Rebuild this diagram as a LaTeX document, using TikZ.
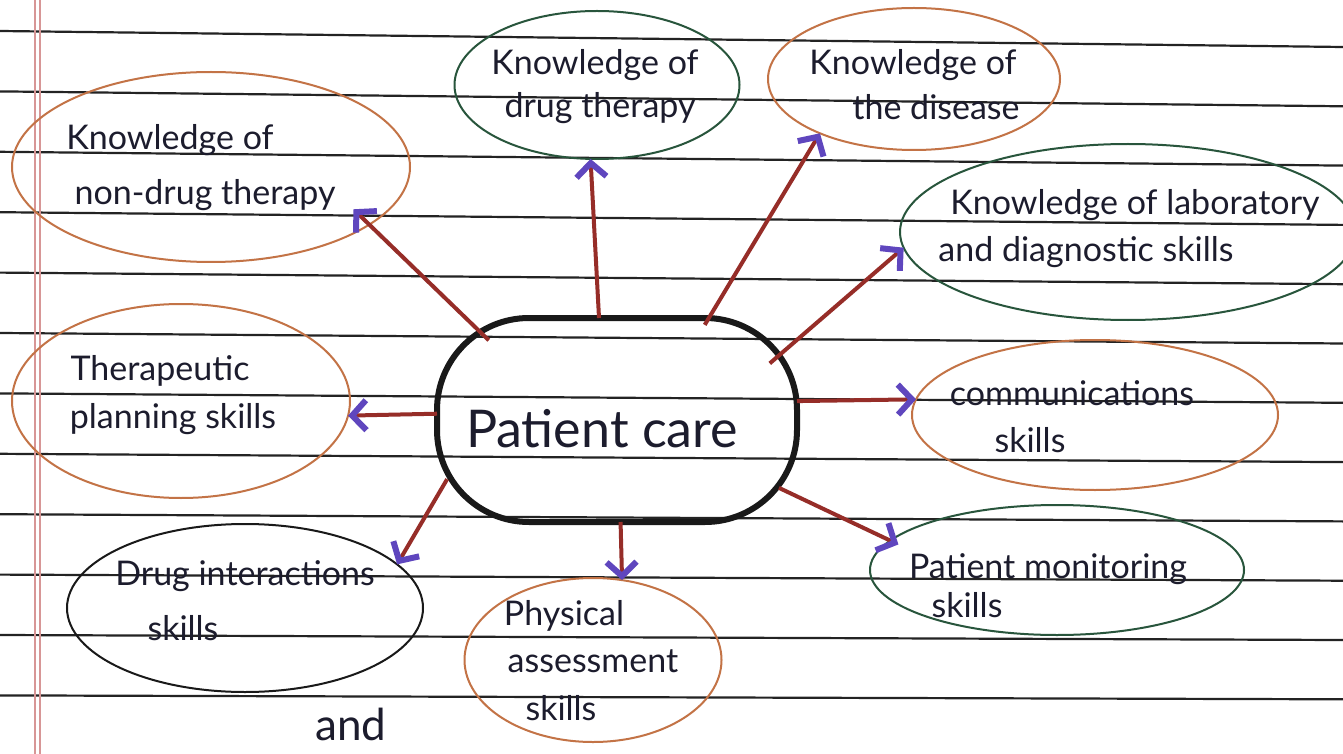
\documentclass[tikz,border=0pt]{standalone}
\usepackage{fontspec}
\setmainfont{Lato}
\usetikzlibrary{arrows.meta,shapes.geometric}
\definecolor{ink}{RGB}{28,28,45}
\definecolor{bgreen}{RGB}{40,85,60}
\definecolor{borange}{RGB}{195,115,70}
\definecolor{bblack}{RGB}{25,25,25}
\definecolor{shaftc}{RGB}{150,45,40}
\definecolor{tipc}{RGB}{95,70,190}
\definecolor{rulec}{RGB}{35,35,35}
\definecolor{marginc}{RGB}{215,150,150}
\begin{document}
\begin{tikzpicture}[x=0.5pt,y=-0.5pt,
  bubble/.style={ellipse, draw, line width=1pt, inner sep=0pt, outer sep=0pt},
  hub/.style={draw=bblack, line width=3pt, rounded corners=46pt, inner sep=0pt, outer sep=0pt},
  txt/.style={text=ink, font=\fontsize{17}{20}\selectfont, anchor=base, inner sep=0pt},
  bigtxt/.style={text=ink, font=\fontsize{26}{30}\selectfont, anchor=base, inner sep=0pt},
  conn/.style={draw=shaftc, line width=2pt, -{Straight Barb[length=7pt,width=15pt,line width=3pt,color=tipc]}},
  ruleline/.style={draw=rulec, line width=1.1pt},
  marginline/.style={draw=marginc, line width=0.6pt}]
\fill[white] (0,0) rectangle (1343,754);
\useasboundingbox (0,0) rectangle (1343,754);
% ruled paper
\foreach \k in {0,...,11}{
  \pgfmathsetmacro{\yl}{31+60.4*\k}
  \pgfmathsetmacro{\yr}{31+60.4*\k+16-1.1*\k}
  \draw[ruleline] (0,\yl) -- (1343,\yr);
}
\draw[marginline] (35,0) -- (35,754);
\draw[marginline] (40,0) -- (40,754);
% bubbles
\node[bubble, draw=borange, minimum width=199pt, minimum height=95pt] (nondrug) at (211,167) {};
\node[bubble, draw=bgreen, minimum width=142.5pt, minimum height=74pt] (drugther) at (597,85) {};
\node[bubble, draw=borange, minimum width=146pt, minimum height=71pt] (disease) at (914,79) {};
\node[bubble, draw=bgreen, minimum width=228pt, minimum height=88pt] (lab) at (1128,232) {};
\node[bubble, draw=borange, minimum width=183pt, minimum height=75pt] (comm) at (1095,415) {};
\node[bubble, draw=bgreen, minimum width=187pt, minimum height=65pt] (monit) at (1057,570) {};
\node[bubble, draw=borange, minimum width=128.5pt, minimum height=82pt] (phys) at (593,660) {};
\node[bubble, draw=bblack, minimum width=178pt, minimum height=84pt] (drugint) at (245,608) {};
\node[bubble, draw=borange, minimum width=169pt, minimum height=97pt] (thera) at (181,401) {};
\node[hub, minimum width=180pt, minimum height=102pt] (center) at (617,420) {};
% connectors
\draw[conn, shorten <=-16pt, shorten >=-11pt] (center.146.5) -- (nondrug.340);
\draw[conn] (center.100) -- (drugther.265);
\draw[conn, shorten <=-4pt] (center.48) -- (disease.210);
\draw[conn, shorten <=-18pt] (center.24) -- (lab.184);
\draw[conn] (center.6) -- (comm.175);
\draw[conn, shorten <=-10pt, shorten >=-4.5pt] (center.337) -- (monit.170);
\draw[conn] (center.-88) -- (phys.70);
\draw[conn, shorten <=-10pt] (center.203) -- (drugint.16);
\draw[conn] (center.178) -- (thera.-5);
% texts
\node[txt] (t1a) at (170,150) {Knowledge of};
\node[txt] (t1b) at (205,205) {non-drug therapy};
\node[txt] (t2a) at (595,75) {Knowledge of};
\node[txt] (t2b) at (600,118) {drug therapy};
\node[txt] (t3a) at (913,75) {Knowledge of};
\node[txt] (t3b) at (936,120) {the disease};
\node[txt] (t4a) at (1135,215) {Knowledge of laboratory};
\node[txt] (t4b) at (1086,262) {and diagnostic skills};
\node[txt] (t5a) at (1072,405) {communications};
\node[txt] (t5b) at (1030,452) {skills};
\node[txt] (t6a) at (1048,578) {Patient monitoring};
\node[txt] (t6b) at (967,617) {skills};
\node[txt] (t7a) at (564,625) {Physical};
\node[txt] (t7b) at (593,672) {assessment};
\node[txt] (t7c) at (561,720) {skills};
\node[txt] (t8a) at (245,585) {Drug interactions};
\node[txt] (t8b) at (183,640) {skills};
\node[txt] (t9a) at (160,380) {Therapeutic};
\node[txt] (t9b) at (173,428) {planning skills};
\node[bigtxt] (tc) at (602,447) {Patient care};
\node[txt, font=\fontsize{22}{26}\selectfont] (tand) at (351,740) {and};
\end{tikzpicture}
\end{document}
